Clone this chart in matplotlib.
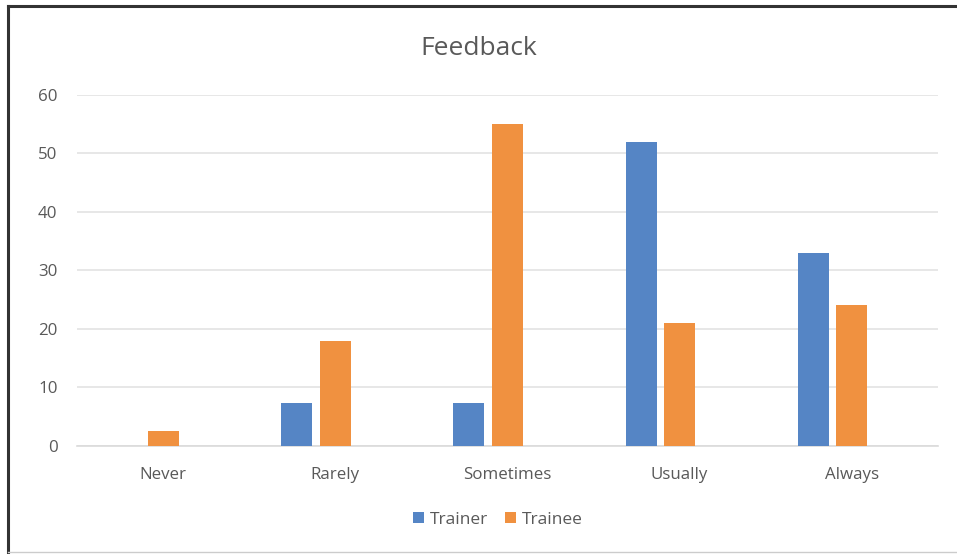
import matplotlib.pyplot as plt
import numpy as np
from matplotlib.lines import Line2D

plt.rcParams['font.family'] = ['Open Sans', 'DejaVu Sans']

categories = ['Never', 'Rarely', 'Sometimes', 'Usually', 'Always']
trainer = [0, 7.4, 7.4, 52, 33]
trainee = [2.6, 18, 55, 21, 24]

blue = '#5585C5'
orange = '#F09140'
text_gray = '#595959'

fig = plt.figure(figsize=(9.57, 5.54), dpi=100)
ax = fig.add_axes([0.0805, 0.195, 0.8995, 0.634])

x = np.arange(len(categories))
w = 0.18
# Excel clustered layout: trainee sits on the tick, trainer one slot to the left
ax.bar(x - 0.224, trainer, width=w, color=blue, label='Trainer', zorder=3)
ax.bar(x, trainee, width=w, color=orange, label='Trainee', zorder=3)

ax.set_xlim(-0.5, len(categories) - 0.5)
ax.set_ylim(0, 60)
ax.set_yticks(range(0, 61, 10))
ax.set_xticks(x)
ax.set_xticklabels(categories)
ax.grid(axis='y', color='#E3E3E3', linewidth=1.2, zorder=0)
for s in ['top', 'right', 'left']:
    ax.spines[s].set_visible(False)
ax.spines['bottom'].set_color('#DADADA')
ax.spines['bottom'].set_linewidth(1.2)
ax.tick_params(axis='both', length=0, colors=text_gray, labelsize=12.2)
ax.tick_params(axis='x', pad=15)
ax.tick_params(axis='y', pad=14)

fig.text(0.5, 0.912, 'Feedback', ha='center', va='center', fontsize=19, color=text_gray)

fig.legend(loc='center', bbox_to_anchor=(0.52, 0.062), ncol=2, frameon=False,
           fontsize=12.5, handlelength=0.65, handleheight=0.65, handletextpad=0.3,
           columnspacing=1.0, labelcolor=text_gray)

# frame around the chart
fig.add_artist(Line2D([0.008, 0.008], [0.004, 0.989], color='#333333', linewidth=2.2, transform=fig.transFigure))
fig.add_artist(Line2D([0.008, 0.999], [0.989, 0.989], color='#333333', linewidth=2.2, transform=fig.transFigure))
fig.add_artist(Line2D([0.008, 0.999], [0.004, 0.004], color='#CCCCCC', linewidth=1, transform=fig.transFigure))

fig.savefig('out.png', dpi=100)
